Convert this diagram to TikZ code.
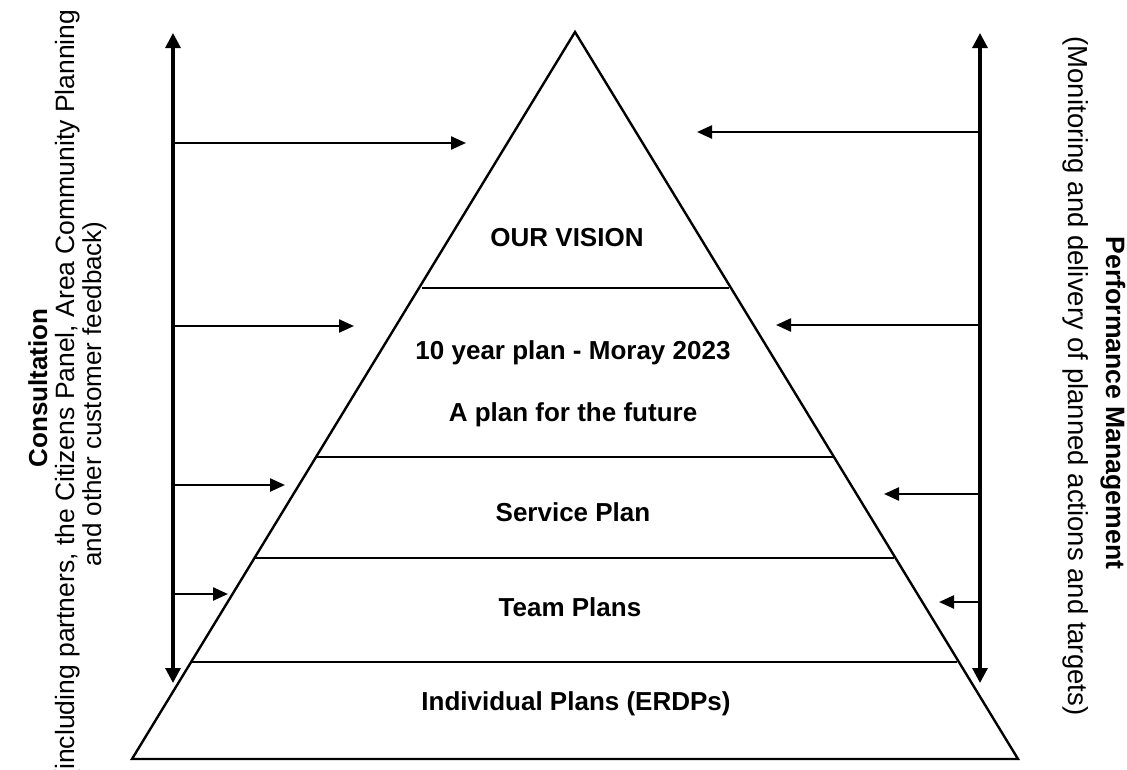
\documentclass[tikz,border=0pt]{standalone}
\usepackage{fontspec}
\setmainfont{Liberation Sans}
\usetikzlibrary{arrows.meta}
\begin{document}
\begin{tikzpicture}[x=1pt,y=-1pt,
  feed/.style={line width=2.4pt, -{Triangle[length=15pt,width=13pt]}},
  axis/.style={line width=3.2pt, {Triangle[length=15pt,width=15pt]}-{Triangle[length=15pt,width=15pt]}},
  tier/.style={line width=2.4pt},
  tierlabel/.style={font=\fontsize{26}{30}\selectfont\bfseries, anchor=base, inner sep=0pt},
  sidehead/.style={font=\fontsize{26}{30}\selectfont\bfseries, anchor=base, inner sep=0pt},
  sidetext/.style={font=\fontsize{26}{30}\selectfont, anchor=base, inner sep=0pt},
]
\useasboundingbox (0,0) rectangle (1127,769);

% pyramid outline
\coordinate (apex) at (575,32);
\coordinate (bl) at (132,759);
\coordinate (br) at (1018,759);
\draw[tier, line join=miter] (apex) -- (bl) -- (br) -- cycle;

% tier dividers
\coordinate (d1l) at (422,288); \coordinate (d1r) at (729,288);
\coordinate (d2l) at (316,457); \coordinate (d2r) at (834,457);
\coordinate (d3l) at (254,558); \coordinate (d3r) at (894,558);
\coordinate (d4l) at (191,662); \coordinate (d4r) at (957,662);
\draw[tier] (d1l) -- (d1r);
\draw[tier] (d2l) -- (d2r);
\draw[tier] (d3l) -- (d3r);
\draw[tier] (d4l) -- (d4r);

% tier labels
\node[tierlabel] (vision) at (567,246) {OUR VISION};
\node[tierlabel] (tenyear) at (573,359) {10 year plan - Moray 2023};
\node[tierlabel] (future) at (573,421) {A plan for the future};
\node[tierlabel] (service) at (573,521) {Service Plan};
\node[tierlabel] (team) at (570,616) {Team Plans};
\node[tierlabel] (individual) at (576,710) {Individual Plans (ERDPs)};

% consultation axis (left)
\coordinate (ltop) at (173,33);
\coordinate (lbot) at (173,683);
\draw[axis] (lbot) -- (ltop);
\coordinate (la1) at (173,143); \coordinate (lb1) at (466,143);
\coordinate (la2) at (173,326); \coordinate (lb2) at (354,326);
\coordinate (la3) at (173,485); \coordinate (lb3) at (285,485);
\coordinate (la4) at (173,594); \coordinate (lb4) at (228,594);
\draw[feed] (la1) -- (lb1);
\draw[feed] (la2) -- (lb2);
\draw[feed] (la3) -- (lb3);
\draw[feed] (la4) -- (lb4);

% performance management axis (right)
\coordinate (rtop) at (980,33);
\coordinate (rbot) at (980,683);
\draw[axis] (rbot) -- (rtop);
\coordinate (ra1) at (980,132); \coordinate (rb1) at (697,132);
\coordinate (ra2) at (980,325); \coordinate (rb2) at (776,325);
\coordinate (ra3) at (980,494); \coordinate (rb3) at (884,494);
\coordinate (ra4) at (980,602); \coordinate (rb4) at (939,602);
\draw[feed] (ra1) -- (rb1);
\draw[feed] (ra2) -- (rb2);
\draw[feed] (ra3) -- (rb3);
\draw[feed] (ra4) -- (rb4);

% side captions
\node[sidehead, rotate=90] (consult) at (47,388) {Consultation};
\node[sidetext, rotate=90, font=\fontsize{26.5}{30}\selectfont] (consult2) at (74,394) {(including partners, the Citizens Panel, Area Community Planning};
\node[sidetext, rotate=90] (consult3) at (101,394) {and other customer feedback)};

\node[sidehead, rotate=-90, font=\fontsize{26.6}{30}\selectfont\bfseries] (perf) at (1106,403) {Performance Management};
\node[sidetext, rotate=-90, font=\fontsize{27.5}{30}\selectfont] (perf2) at (1068,376) {(Monitoring and delivery of planned actions and targets)};
\end{tikzpicture}
\end{document}
